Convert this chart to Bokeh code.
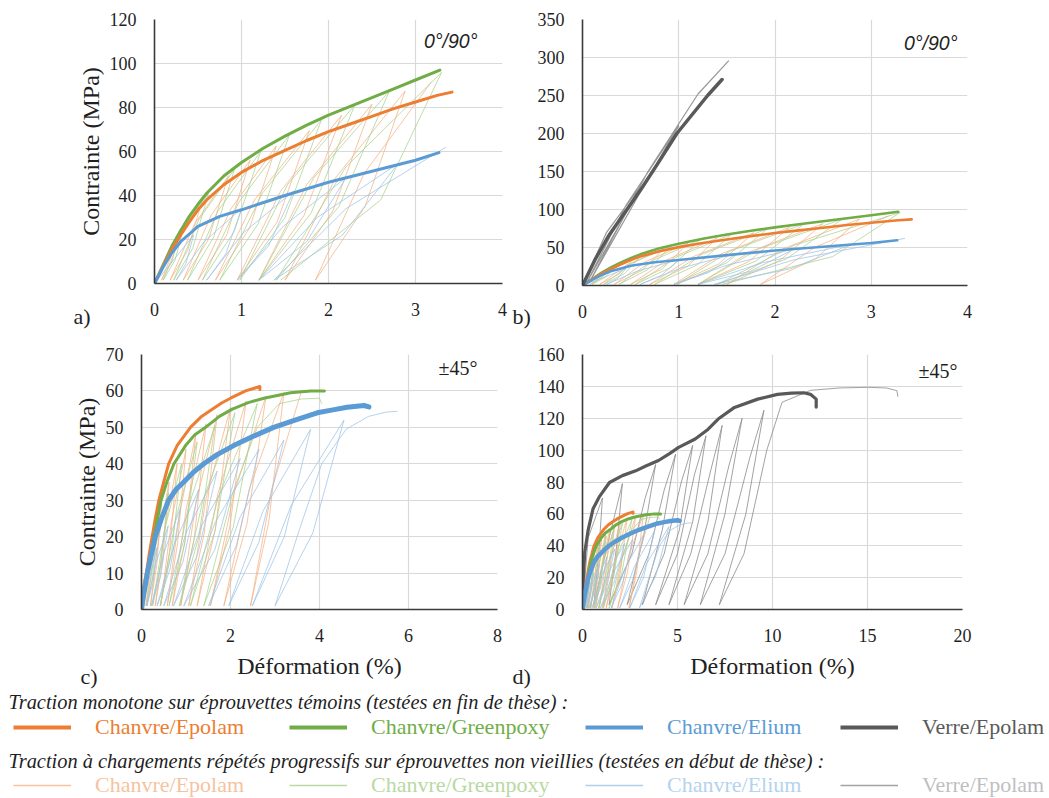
from bokeh.plotting import figure
from bokeh.layouts import column, row
from bokeh.models import Range1d, FixedTicker, Label, Legend, LegendItem
from bokeh.embed import file_html
from bokeh.resources import INLINE

# ---------------- data : 0°/90° (strain %, stress MPa) ----------------
M090_EPO_X = [0, 0.1, 0.2, 0.3, 0.4, 0.5, 0.6, 0.8, 1.0, 1.25, 1.5, 1.75, 2.0, 2.25, 2.5, 2.75, 3.0, 3.25, 3.42]
M090_EPO_Y = [0, 8, 15.5, 22, 28, 33.5, 38, 45, 50.5, 56, 60.5, 65, 69, 72.5, 76, 79.5, 82.5, 85.5, 87]
M090_GRE_X = [0, 0.1, 0.2, 0.3, 0.4, 0.5, 0.6, 0.8, 1.0, 1.25, 1.5, 1.75, 2.0, 2.25, 2.5, 2.75, 3.0, 3.28]
M090_GRE_Y = [0, 8.5, 17, 24, 30.5, 36, 41, 49, 55, 61.5, 67, 72, 76.5, 80.5, 84.5, 88.5, 92.5, 97]
M090_ELI_X = [0, 0.1, 0.2, 0.3, 0.4, 0.5, 0.75, 1.0, 1.5, 2.0, 2.5, 3.0, 3.27]
M090_ELI_Y = [0, 7.5, 14, 19, 22.5, 26, 30.5, 33.5, 40, 46, 51, 56, 59.5]
M090_VER_X = [0, 0.13, 0.27, 0.44, 0.61, 0.78, 0.98, 1.14, 1.3, 1.45]
M090_VER_Y = [0, 34, 65, 96, 127, 160, 200, 225, 250, 271]

C090_EPO_X = [0, 0.3, 0.2, 0.08, 0.28, 0.55, 0.38, 0.18, 0.46, 0.85, 0.62, 0.33, 0.65, 1.1, 0.83, 0.5,
              0.88, 1.4, 1.09, 0.7, 1.15, 1.78, 1.41, 0.95, 1.45, 2.15, 1.72, 1.2, 1.75, 2.5, 2.05, 1.5,
              2.08, 2.88, 2.42, 1.85, 2.41, 3.18]
C090_EPO_Y = [0, 25, 10, 1.5, 21, 38, 15, 1.5, 27, 49, 20, 1.5, 31, 56, 22, 1.5,
              34, 62.5, 25, 1.5, 38, 69.5, 28, 1.5, 42, 76.5, 31, 1.5, 45, 81.5, 33, 1.5,
              48, 87.5, 35, 1.5, 50, 91.5]
C090_GRE_X = [0, 0.35, 0.24, 0.1, 0.32, 0.62, 0.44, 0.22, 0.51, 0.92, 0.68, 0.38, 0.73, 1.22, 0.92, 0.55,
              0.97, 1.55, 1.19, 0.75, 1.24, 1.92, 1.5, 0.98, 1.53, 2.3, 1.8, 1.2, 1.83, 2.7, 2.12, 1.4,
              2.2, 3.3, 2.6, 1.45]
C090_GRE_Y = [0, 28, 11, 1.5, 23, 41, 16, 1.5, 29, 52, 21, 1.5, 33, 60, 24, 1.5,
              37, 67.5, 27, 1.5, 41, 74.5, 30, 1.5, 45, 81, 32, 1.5, 48, 87.5, 35, 1.5,
              53, 96, 38, 1.5]
C090_ELI_X = [0, 0.45, 0.36, 0.25, 0.57, 1.0, 0.82, 0.6, 1.02, 1.6, 1.31, 0.95, 1.48, 2.2, 1.75, 1.2,
              1.87, 2.8, 2.16, 1.37, 2.2, 3.35]
C090_ELI_Y = [0, 22, 9, 1.5, 19, 34, 13.5, 1.5, 23, 42, 17, 1.5, 26, 48, 19, 1.5,
              30, 54.5, 22, 1.5, 34, 62]
C090_VER_X = [0, 0.25, 0.6, 0.42, 0.04, 0.45, 1.0, 0.7, 0.07, 0.68, 1.2, 1.52]
C090_VER_Y = [0, 70, 130, 88, 3, 105, 210, 145, 4, 150, 252, 296]

# ---------------- data : ±45° ----------------
M45_EPO_X = [0, 0.02, 0.06, 0.11, 0.17, 0.24, 0.31, 0.39, 0.5, 0.61, 0.8, 1.1, 1.35, 1.59, 1.8, 2.0, 2.34, 2.55, 2.66, 2.66]
M45_EPO_Y = [0, 4, 7, 10, 15, 20, 25, 30, 35, 40, 45, 50, 53, 55, 56.7, 58, 60, 60.8, 61.2, 60.4]
M45_GRE_X = [0, 0.05, 0.14, 0.21, 0.28, 0.36, 0.44, 0.57, 0.73, 0.99, 1.2, 1.44, 1.75, 2.04, 2.4, 2.75, 3.35, 3.8, 4.11]
M45_GRE_Y = [0, 4, 10, 15, 20, 25, 30, 35, 40, 45, 48, 50, 53, 55, 56.8, 58, 59.5, 60, 60]
M45_ELI_X = [0, 0.05, 0.13, 0.22, 0.31, 0.45, 0.61, 0.78, 0.95, 1.15, 1.4, 1.7, 2.07, 2.5, 2.97, 3.45, 3.95, 4.3, 4.62, 5.0, 5.11]
M45_ELI_Y = [0, 4, 10, 15, 20, 25, 30, 33, 35, 37.5, 40, 42.5, 45, 47.5, 50, 52, 54, 54.8, 55.5, 56, 55.6]
M45_VER_X = [0, 0.03, 0.12, 0.3, 0.55, 0.9, 1.42, 2.1, 2.8, 3.33, 4.0, 4.6, 5.06, 5.93, 6.6, 7.14, 8.0, 9.22,
             10.26, 11.0, 11.65, 12.0, 12.3, 12.3]
M45_VER_Y = [0, 17, 36, 50, 63, 71, 79.7, 84, 87, 90, 93.5, 98, 101.7, 107, 113, 119.5, 126.8, 132,
             135, 135.8, 136, 135, 132, 127]

C45_EPO_X = [0, 0.3, 0.21, 0.1, 0.25, 0.45, 0.34, 0.2, 0.38, 0.62, 0.48, 0.31, 0.52, 0.8, 0.63, 0.43,
             0.67, 1.0, 0.81, 0.58, 0.85, 1.22, 0.98, 0.69, 1.01, 1.45, 1.19, 0.88, 1.22, 1.7, 1.41, 1.06,
             1.45, 2.0, 1.66, 1.25, 1.71, 2.35, 1.99, 1.55, 2.08, 2.8, 2.37, 1.85, 2.42, 3.2, 2.86, 2.45,
             2.93, 3.6]
C45_EPO_Y = [0, 22, 9, 1, 16, 29, 12, 1, 19, 35, 14, 1, 22, 40, 16, 1,
             24, 44, 18, 1, 26, 48, 19, 1, 28, 51, 20, 1, 29, 53.5, 21, 1,
             30.5, 55.5, 22, 1, 31.5, 57.2, 23, 1, 32, 58.6, 23.5, 1, 33, 59.6, 24, 1,
             33, 60.2]
C45_GRE_X = [0, 0.35, 0.25, 0.12, 0.32, 0.6, 0.44, 0.25, 0.52, 0.9, 0.68, 0.42, 0.77, 1.25, 0.97, 0.62,
             1.05, 1.65, 1.29, 0.85, 1.38, 2.1, 1.65, 1.1, 1.73, 2.6, 2.06, 1.4, 2.05, 2.6, 3.1, 3.6, 4.0, 4.05]
C45_GRE_Y = [0, 22, 9, 1, 17.5, 32, 13, 1, 22, 40, 16, 1, 25, 46, 18, 1,
             28, 50.5, 20, 1, 30, 54, 21.5, 1, 31, 56.5, 22.5, 1, 32, 50, 56.5, 57.8, 58, 56.5]
C45_ELI_X = [0, 0.35, 0.25, 0.12, 0.32, 0.6, 0.43, 0.22, 0.5, 0.88, 0.64, 0.35, 0.74, 1.29, 0.93, 0.5,
             1.0, 1.7, 1.26, 0.72, 1.35, 2.22, 1.65, 0.95, 1.66, 2.64, 2.13, 1.51, 2.22, 3.2, 2.64, 1.96,
             2.73, 3.8, 3.21, 2.49, 3.36, 4.55, 3.85, 3.0, 3.55, 4.05, 4.6, 5.1, 5.5, 5.75]
C45_ELI_Y = [0, 17, 7, 1, 12.5, 23, 9, 1, 15.5, 28, 11, 1, 18, 33, 13, 1,
             21, 38, 15, 1, 23, 41.5, 16.5, 1, 24, 44, 17.5, 1, 25.5, 46.5, 18.5, 1,
             27, 49.5, 20, 1, 28.5, 52, 21, 1, 22, 40, 49.5, 53, 54.2, 54.4]
C45_VER_X = [0, 0.3, 1.05, 0.85, 0.6, 1.3, 2.1, 1.8, 1.4, 2.6, 3.3, 3.85, 3.2, 2.35, 3.5, 4.3, 4.9,
             4.2, 3.15, 4.3, 5.2, 5.8, 5.1, 3.85, 5.0, 5.9, 6.5, 5.8, 4.55, 5.7, 6.7, 7.35, 6.6, 5.35,
             6.6, 7.7, 8.4, 7.5, 6.2, 7.5, 8.8, 9.55, 8.6, 7.2, 8.5, 9.7, 10.5, 12.0, 13.5, 15.0, 16.0,
             16.55, 16.6]
C45_VER_Y = [0, 45, 70, 35, 3, 40, 79, 40, 3, 35, 70, 91, 45, 3, 35, 75, 97.5,
             50, 3, 35, 80, 103, 50, 3, 35, 85, 109, 55, 3, 35, 85, 115.5, 55, 3,
             35, 90, 120, 60, 3, 35, 95, 125, 60, 3, 35, 100, 130, 137.5, 139, 139.4, 139,
             137.3, 133.5]

SERIES_NAMES = ["Chanvre/Epolam", "Chanvre/Greenpoxy", "Chanvre/Elium", "Verre/Epolam"]
HEADER_MONO = "Traction monotone sur éprouvettes témoins (testées en fin de thèse) :"
HEADER_CYC = "Traction à chargements répétés progressifs sur éprouvettes non vieillies (testées en début de thèse) :"

# ---------------- styling ----------------
SERIF = "Liberation Serif"
SANS = "Liberation Sans"
TXT = "#1F1F1F"
DARK = ["#ED7D31", "#70AD47", "#5B9BD5", "#595959"]
LIGHT = ["#F4B183", "#A9D18E", "#9DC3E6", "#8C8C8C"]
LIGHT_TXT = ["#F6C3A0", "#B9D9A3", "#B4D3EE", "#BFBFBF"]
NAN2 = [float("nan"), float("nan")]


def panel(fw, fh, borders, xr, yr, xticks, yticks, ylabel=None, xlabel=None):
    l, r, t, b = borders
    p = figure(frame_width=fw, frame_height=fh, min_border_left=l, min_border_right=r,
               min_border_top=t, min_border_bottom=b, x_range=Range1d(*xr), y_range=Range1d(*yr),
               output_backend="svg", toolbar_location=None)
    p.outline_line_color = None
    p.xaxis.ticker = FixedTicker(ticks=xticks)
    p.yaxis.ticker = FixedTicker(ticks=yticks)
    p.axis.major_tick_line_color = None
    p.axis.minor_tick_line_color = None
    p.axis.major_tick_out = 0
    p.axis.major_tick_in = 0
    p.axis.minor_tick_out = 0
    p.axis.axis_line_color = "#3A3A3A"
    p.axis.axis_line_width = 1.6
    p.axis.major_label_text_font = SERIF
    p.axis.major_label_text_font_size = "18px"
    p.axis.major_label_text_color = TXT
    p.axis.axis_label_text_font = SERIF
    p.axis.axis_label_text_font_size = "24px"
    p.axis.axis_label_text_font_style = "normal"
    p.axis.axis_label_text_color = TXT
    p.yaxis.major_label_standoff = 18
    p.xaxis.major_label_standoff = 19
    p.xgrid.ticker = FixedTicker(ticks=xticks)
    p.ygrid.ticker = FixedTicker(ticks=yticks)
    p.grid.grid_line_color = "#D9D9D9"
    p.grid.grid_line_width = 1.2
    if ylabel:
        p.yaxis.axis_label = ylabel
        p.yaxis.axis_label_standoff = 3
    if xlabel:
        p.xaxis.axis_label = xlabel
        p.xaxis.axis_label_standoff = 8
    return p


def label(text, x, y, font=SERIF, size="22px", style="normal", align="left", baseline="alphabetic",
          units="screen"):
    return Label(x=x, y=y, x_units=units, y_units=units, text=text, text_font=font,
                 text_font_size=size, text_font_style=style, text_color=TXT,
                 text_align=align, text_baseline=baseline)


def cyc(p, xs, ys, i, w=1.0, alpha=0.75):
    p.line(xs, ys, line_color=LIGHT[i], line_width=w, line_alpha=alpha, line_join="round")


def mono(p, xs, ys, i, w=3.0):
    p.line(xs, ys, line_color=DARK[i], line_width=w, line_join="round", line_cap="round")


# ---------------- panel a ----------------
pa = panel(348, 264, (154, 8, 19, 47), (0, 4), (0, 120), [0, 1, 2, 3, 4], list(range(0, 121, 20)),
           ylabel="Contrainte (MPa)")
cyc(pa, C090_EPO_X, C090_EPO_Y, 0)
cyc(pa, C090_GRE_X, C090_GRE_Y, 1)
cyc(pa, C090_ELI_X, C090_ELI_Y, 2)
mono(pa, M090_GRE_X, M090_GRE_Y, 1)
mono(pa, M090_EPO_X, M090_EPO_Y, 0)
mono(pa, M090_ELI_X, M090_ELI_Y, 2)
pa.add_layout(label("0°/90°", 323, 243, font=SANS, size="19.5px", style="italic", align="right", baseline="middle"))
pa.add_layout(label("a)", 73, 316, units="canvas"), "left")

# ---------------- panel b ----------------
pb = panel(385, 266, (72, 74, 17, 47), (0, 4), (0, 350), [0, 1, 2, 3, 4], list(range(0, 351, 50)))
cyc(pb, C090_EPO_X, C090_EPO_Y, 0)
cyc(pb, C090_GRE_X, C090_GRE_Y, 1)
cyc(pb, C090_ELI_X, C090_ELI_Y, 2)
cyc(pb, C090_VER_X, C090_VER_Y, 3, w=1.2, alpha=0.9)
mono(pb, M090_GRE_X, M090_GRE_Y, 1, w=2.6)
mono(pb, M090_EPO_X, M090_EPO_Y, 0, w=2.6)
mono(pb, M090_ELI_X, M090_ELI_Y, 2, w=2.6)
mono(pb, M090_VER_X, M090_VER_Y, 3, w=3.5)
pb.add_layout(label("0°/90°", 375, 243, font=SANS, size="19.5px", style="italic", align="right", baseline="middle"))
pb.add_layout(label("b)", 2, 316, units="canvas"), "left")

# ---------------- panel c ----------------
pc = panel(356, 255, (141, 13, 24, 81), (0, 8), (0, 70), [0, 2, 4, 6, 8], list(range(0, 71, 10)),
           ylabel="Contrainte (MPa)", xlabel="Déformation (%)")
cyc(pc, C45_EPO_X, C45_EPO_Y, 0)
cyc(pc, C45_GRE_X, C45_GRE_Y, 1)
cyc(pc, C45_ELI_X, C45_ELI_Y, 2)
mono(pc, M45_EPO_X, M45_EPO_Y, 0)
mono(pc, M45_GRE_X, M45_GRE_Y, 1)
mono(pc, M45_ELI_X, M45_ELI_Y, 2, w=5)
pc.add_layout(label("±45°", 336, 242, size="20px", align="right", baseline="middle"))
pc.add_layout(label("c)", 80, 346, units="canvas"), "left")

# ---------------- panel d ----------------
pd_ = panel(380, 255, (72, 79, 22, 83), (0, 20), (0, 160), [0, 5, 10, 15, 20], list(range(0, 161, 20)),
            xlabel="Déformation (%)")
cyc(pd_, C45_VER_X, C45_VER_Y, 3, w=0.9, alpha=0.9)
cyc(pd_, C45_EPO_X, C45_EPO_Y, 0)
cyc(pd_, C45_GRE_X, C45_GRE_Y, 1)
cyc(pd_, C45_ELI_X, C45_ELI_Y, 2)
mono(pd_, M45_VER_X, M45_VER_Y, 3, w=3.2)
mono(pd_, M45_EPO_X, M45_EPO_Y, 0)
mono(pd_, M45_GRE_X, M45_GRE_Y, 1)
mono(pd_, M45_ELI_X, M45_ELI_Y, 2, w=4.5)
pd_.add_layout(label("±45°", 375, 239, size="20px", align="right", baseline="middle"))
pd_.add_layout(label("d)", 2, 346, units="canvas"), "left")

# ---------------- legend strip ----------------
lf = figure(width=1049, height=108, x_range=Range1d(0, 1), y_range=Range1d(0, 1),
            x_axis_type=None, y_axis_type=None, min_border=0, output_backend="svg",
            toolbar_location=None)
lf.outline_line_color = None
lf.add_layout(label(HEADER_MONO, 8, 97, size="20.4px", style="italic", baseline="middle"))
lf.add_layout(label(HEADER_CYC, 8, 38, size="20.4px", style="italic", baseline="middle"))

ITEM_X = [13, 289, 585, 840]
for row_y, colors, txt_colors, width in ((58, DARK, DARK, 4), (0, LIGHT, LIGHT_TXT, 1.6)):
    for i, name in enumerate(SERIES_NAMES):
        r = lf.line(x=NAN2, y=NAN2, line_color=colors[i], line_width=width,
                    line_alpha=1.0 if width > 2 else 0.8)
        leg = Legend(items=[LegendItem(label=name, renderers=[r])], location=(ITEM_X[i], row_y),
                     label_text_font=SERIF, label_text_font_size="22px",
                     label_text_color=txt_colors[i], glyph_width=58, glyph_height=20,
                     label_standoff=24, padding=0, margin=0, spacing=0,
                     border_line_color=None, background_fill_alpha=0)
        lf.add_layout(leg)

layout = column(row(pa, pb), row(pc, pd_), lf)
open("out.html", "w").write(file_html(layout, INLINE))
